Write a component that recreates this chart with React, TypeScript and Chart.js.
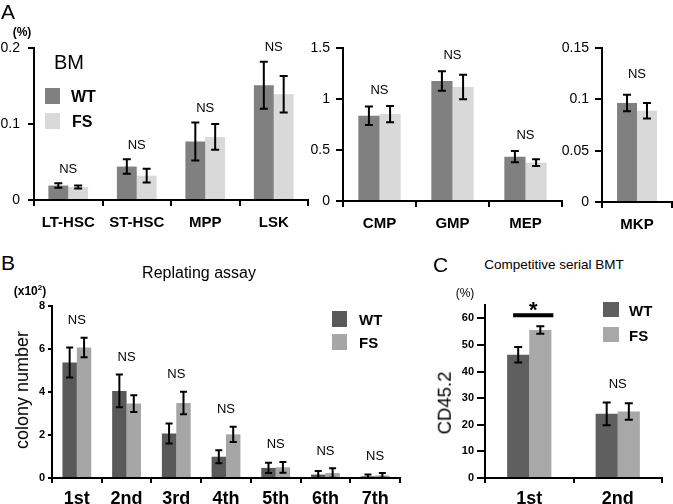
import React, { useEffect, useRef } from 'react';
import { Chart, registerables } from 'chart.js';

Chart.register(...registerables);

const FONT = '"Liberation Sans", Arial, Helvetica, sans-serif';

// ---------- Panel A (BM) ----------
const aCats1 = ['LT-HSC', 'ST-HSC', 'MPP', 'LSK'];
const aWT1 = [0.019, 0.044, 0.077, 0.151];
const aWTErr1 = [0.003, 0.0095, 0.025, 0.031];
const aFS1 = [0.017, 0.032, 0.083, 0.139];
const aFSErr1 = [0.002, 0.009, 0.017, 0.024];
const aSig1 = ['NS', 'NS', 'NS', 'NS'];

const aCats2 = ['CMP', 'GMP', 'MEP'];
const aWT2 = [0.836, 1.176, 0.435];
const aWTErr2 = [0.09, 0.095, 0.054];
const aFS2 = [0.852, 1.117, 0.377];
const aFSErr2 = [0.08, 0.12, 0.033];
const aSig2 = ['NS', 'NS', 'NS'];

const aCats3 = ['MKP'];
const aWT3 = [0.0964];
const aWTErr3 = [0.008];
const aFS3 = [0.0889];
const aFSErr3 = [0.0076];
const aSig3 = ['NS'];

// ---------- Panel B (Replating assay, x10^2 colonies) ----------
const bCats = ['1st', '2nd', '3rd', '4th', '5th', '6th', '7th'];
const bWT = [5.37, 4.05, 2.07, 0.99, 0.47, 0.16, 0.08];
const bWTErr = [0.7, 0.76, 0.46, 0.3, 0.24, 0.17, 0.08];
const bFS = [6.07, 3.46, 3.49, 2.03, 0.5, 0.23, 0.12];
const bFSErr = [0.45, 0.39, 0.52, 0.35, 0.25, 0.22, 0.11];
const bSig = ['NS', 'NS', 'NS', 'NS', 'NS', 'NS', 'NS'];

// ---------- Panel C (Competitive serial BMT, CD45.2 %) ----------
const cCats = ['1st', '2nd'];
const cWT = [46.3, 24.1];
const cWTErr = [2.9, 4.3];
const cFS = [55.6, 25.0];
const cFSErr = [1.4, 3.1];
const cSig = ['*', 'NS'];

const seriesNames = ['WT', 'FS'];
const aColors = ['#808080', '#d9d9d9'];
const bColors = ['#595959', '#a6a6a6'];
const cColors = ['#5f5f5f', '#a8a8a8'];

type Spec = {
  labels: string[];
  wt: number[];
  wtErr: number[];
  fs: number[];
  fsErr: number[];
  sig: string[];
  colors: string[];
  yMax: number;
  yStep: number;
  yTickMax?: number;
  box: { left: number; top: number; width: number; height: number };
  yW: number;
  xH: number;
  padTop: number;
  padRight: number;
  catPct: number;
  yFontSize: number;
  yFontBold: boolean;
  yTickLen: number;
  yTickPad: number;
  xFontSize: number;
  xTickLen: number;
  xTickPad: number;
  nsGap: number;
  nsSize: number;
  cap: number;
};

function fmt(v: number) {
  return String(parseFloat(Number(v).toFixed(3)));
}

function BarPanel({ spec }: { spec: Spec }) {
  const ref = useRef<HTMLCanvasElement | null>(null);
  useEffect(() => {
    if (!ref.current) return;
    const s = spec;
    const overlay = {
      id: 'overlay',
      afterDatasetsDraw(chart: any) {
        const ctx = chart.ctx as CanvasRenderingContext2D;
        const y = chart.scales.y;
        ctx.save();
        ctx.strokeStyle = '#000';
        ctx.lineWidth = 2;
        const groups: [number[], number[]][] = [
          [s.wt, s.wtErr],
          [s.fs, s.fsErr],
        ];
        groups.forEach(([vals, errs], d) => {
          const meta = chart.getDatasetMeta(d);
          meta.data.forEach((bar: any, i: number) => {
            const x = bar.x;
            const yT = y.getPixelForValue(vals[i] + errs[i]);
            const yB = y.getPixelForValue(Math.max(vals[i] - errs[i], 0));
            ctx.beginPath();
            ctx.moveTo(x, yT);
            ctx.lineTo(x, yB);
            ctx.moveTo(x - s.cap / 2, yT);
            ctx.lineTo(x + s.cap / 2, yT);
            ctx.moveTo(x - s.cap / 2, yB);
            ctx.lineTo(x + s.cap / 2, yB);
            ctx.stroke();
          });
        });
        ctx.fillStyle = '#000';
        ctx.textAlign = 'center';
        s.sig.forEach((mark, i) => {
          const top = Math.max(s.wt[i] + s.wtErr[i], s.fs[i] + s.fsErr[i]);
          const py = y.getPixelForValue(top);
          const b0 = chart.getDatasetMeta(0).data[i];
          const b1 = chart.getDatasetMeta(1).data[i];
          const cx = (b0.x + b1.x) / 2;
          if (mark === '*') {
            const ly = py - 11;
            ctx.lineWidth = 4;
            ctx.beginPath();
            ctx.moveTo(b0.x - b0.width / 2 + 6, ly);
            ctx.lineTo(b1.x + b1.width / 2 + 2, ly);
            ctx.stroke();
            ctx.font = `bold 22px ${FONT}`;
            ctx.textBaseline = 'alphabetic';
            ctx.fillText('*', cx + 4, ly + 2);
          } else {
            ctx.font = `${s.nsSize}px ${FONT}`;
            ctx.textBaseline = 'middle';
            ctx.fillText(mark, cx, py - s.nsGap);
          }
        });
        ctx.restore();
      },
    };
    const chart = new Chart(ref.current, {
      type: 'bar',
      data: {
        labels: s.labels,
        datasets: [
          {
            label: seriesNames[0],
            data: s.wt,
            backgroundColor: s.colors[0],
            borderWidth: 0,
            barPercentage: 1,
            categoryPercentage: s.catPct,
          },
          {
            label: seriesNames[1],
            data: s.fs,
            backgroundColor: s.colors[1],
            borderWidth: 0,
            barPercentage: 1,
            categoryPercentage: s.catPct,
          },
        ],
      },
      options: {
        responsive: false,
        animation: false,
        devicePixelRatio: 1,
        events: [],
        layout: { padding: { top: s.padTop, right: s.padRight, left: 0, bottom: 0 } },
        plugins: { legend: { display: false }, tooltip: { enabled: false } },
        scales: {
          x: {
            grid: {
              display: true,
              drawOnChartArea: false,
              drawTicks: true,
              tickLength: s.xTickLen,
              color: '#000',
              lineWidth: 2,
              offset: true,
            },
            border: { display: true, color: '#000', width: 2 },
            ticks: {
              color: '#000',
              font: { family: FONT, size: s.xFontSize, weight: 'bold' },
              padding: s.xTickPad,
              maxRotation: 0,
              autoSkip: false,
            },
            afterFit: (sc: any) => {
              sc.height = s.xH;
            },
          },
          y: {
            min: 0,
            max: s.yMax,
            grid: {
              display: true,
              drawOnChartArea: false,
              drawTicks: true,
              tickLength: s.yTickLen,
              color: '#000',
              lineWidth: 2,
            },
            border: { display: true, color: '#000', width: 2 },
            ticks: {
              stepSize: s.yStep,
              color: '#000',
              font: { family: FONT, size: s.yFontSize, weight: s.yFontBold ? 'bold' : 'normal' },
              padding: s.yTickPad,
              callback: (v: any) => fmt(v),
            },
            afterBuildTicks: (sc: any) => {
              if (s.yTickMax !== undefined) {
                sc.ticks = sc.ticks.filter((t: any) => t.value <= (s.yTickMax as number) + 1e-9);
              }
            },
            afterFit: (sc: any) => {
              sc.width = s.yW;
            },
          },
        },
      } as any,
      plugins: [overlay],
    });
    return () => chart.destroy();
  }, [spec]);
  const b = spec.box;
  return (
    <div style={{ position: 'absolute', left: b.left, top: b.top, width: b.width, height: b.height }}>
      <canvas ref={ref} width={b.width} height={b.height} style={{ display: 'block', width: b.width, height: b.height }} />
    </div>
  );
}

type TProps = {
  x: number;
  y: number;
  size: number;
  bold?: boolean;
  center?: boolean;
  rotate?: boolean;
  children: React.ReactNode;
};

function T({ x, y, size, bold, center, rotate, children }: TProps) {
  let transform = 'translate(0,-50%)';
  if (center) transform = 'translate(-50%,-50%)';
  if (rotate) transform = 'translate(-50%,-50%) rotate(-90deg)';
  return (
    <div
      style={{
        position: 'absolute',
        left: x,
        top: y,
        fontSize: size,
        fontWeight: bold ? 'bold' : 'normal',
        fontFamily: FONT,
        lineHeight: 1,
        whiteSpace: 'nowrap',
        color: '#000',
        transform,
      }}
    >
      {children}
    </div>
  );
}

function Swatch({ x, y, w, h, color }: { x: number; y: number; w: number; h: number; color: string }) {
  return <div style={{ position: 'absolute', left: x, top: y, width: w, height: h, background: color }} />;
}

const specA1: Spec = {
  labels: aCats1, wt: aWT1, wtErr: aWTErr1, fs: aFS1, fsErr: aFSErr1, sig: aSig1, colors: aColors,
  yMax: 0.2, yStep: 0.1,
  box: { left: 0, top: 0, width: 310, height: 235 },
  yW: 34, xH: 35, padTop: 48, padRight: 2, catPct: 0.58,
  yFontSize: 14, yFontBold: false, yTickLen: 6, yTickPad: 8,
  xFontSize: 15, xTickLen: 6, xTickPad: 8,
  nsGap: 14, nsSize: 13, cap: 8,
};

const specA2: Spec = {
  labels: aCats2, wt: aWT2, wtErr: aWTErr2, fs: aFS2, fsErr: aFSErr2, sig: aSig2, colors: aColors,
  yMax: 1.5, yStep: 0.5,
  box: { left: 296, top: 0, width: 270, height: 235 },
  yW: 47, xH: 34, padTop: 48, padRight: 4, catPct: 0.58,
  yFontSize: 14, yFontBold: false, yTickLen: 7, yTickPad: 6,
  xFontSize: 15, xTickLen: 6, xTickPad: 8,
  nsGap: 16, nsSize: 13, cap: 8,
};

const specA3: Spec = {
  labels: aCats3, wt: aWT3, wtErr: aWTErr3, fs: aFS3, fsErr: aFSErr3, sig: aSig3, colors: aColors,
  yMax: 0.15, yStep: 0.05,
  box: { left: 560, top: 0, width: 113, height: 235 },
  yW: 42, xH: 33, padTop: 48, padRight: 1, catPct: 0.57,
  yFontSize: 14, yFontBold: false, yTickLen: 7, yTickPad: 6,
  xFontSize: 15, xTickLen: 6, xTickPad: 8,
  nsGap: 20, nsSize: 13, cap: 8,
};

const specB: Spec = {
  labels: bCats, wt: bWT, wtErr: bWTErr, fs: bFS, fsErr: bFSErr, sig: bSig, colors: bColors,
  yMax: 8, yStep: 2,
  box: { left: 0, top: 280, width: 410, height: 224 },
  yW: 52, xH: 26, padTop: 26, padRight: 10, catPct: 0.58,
  yFontSize: 11, yFontBold: true, yTickLen: 4, yTickPad: 3,
  xFontSize: 18, xTickLen: 5, xTickPad: 5,
  nsGap: 17, nsSize: 13, cap: 7,
};

const specC: Spec = {
  labels: cCats, wt: cWT, wtErr: cWTErr, fs: cFS, fsErr: cFSErr, sig: cSig, colors: cColors,
  yMax: 65, yStep: 10, yTickMax: 60,
  box: { left: 420, top: 280, width: 253, height: 224 },
  yW: 65, xH: 26, padTop: 25, padRight: 11, catPct: 0.5,
  yFontSize: 11, yFontBold: true, yTickLen: 8, yTickPad: 3,
  xFontSize: 18, xTickLen: 5, xTickPad: 5,
  nsGap: 18, nsSize: 13, cap: 8,
};

export default function App() {
  useEffect(() => {
    document.body.style.margin = '0';
  }, []);
  return (
    <div style={{ position: 'absolute', left: 0, top: 0, width: 673, height: 504, background: '#fff', overflow: 'hidden' }}>
      <BarPanel spec={specA1} />
      <BarPanel spec={specA2} />
      <BarPanel spec={specA3} />
      <BarPanel spec={specB} />
      <BarPanel spec={specC} />

      {/* Panel A annotations */}
      <T x={1} y={11} size={21}>A</T>
      <T x={22} y={32} size={12} bold center>(%)</T>
      <T x={54} y={62} size={20}>BM</T>
      <Swatch x={45} y={88} w={15} h={16} color={aColors[0]} />
      <Swatch x={45} y={113} w={15} h={16} color={aColors[1]} />
      <T x={71} y={97} size={16} bold>{seriesNames[0]}</T>
      <T x={72} y={122} size={16} bold>{seriesNames[1]}</T>

      {/* Panel B annotations */}
      <T x={1} y={262} size={21}>B</T>
      <T x={199} y={273} size={16} center>Replating assay</T>
      <T x={30} y={291} size={12} bold center>
        (x10<sup style={{ fontSize: 8, verticalAlign: 'super', lineHeight: 0 }}>2</sup>)
      </T>
      <T x={22} y={390} size={18} rotate>colony number</T>
      <Swatch x={332} y={311} w={15} h={16} color={bColors[0]} />
      <Swatch x={332} y={334} w={15} h={16} color={bColors[1]} />
      <T x={359} y={319} size={15} bold>{seriesNames[0]}</T>
      <T x={359} y={342} size={15} bold>{seriesNames[1]}</T>

      {/* Panel C annotations */}
      <T x={433} y={264} size={21}>C</T>
      <T x={554} y={265} size={13.5} center>Competitive serial BMT</T>
      <T x={465} y={293} size={12} center>(%)</T>
      <T x={445} y={403} size={18.5} rotate>CD45.2</T>
      <Swatch x={603} y={302} w={16} h={15} color={cColors[0]} />
      <Swatch x={603} y={327} w={16} h={15} color={cColors[1]} />
      <T x={629} y={310} size={15} bold>{seriesNames[0]}</T>
      <T x={629} y={335} size={15} bold>{seriesNames[1]}</T>
    </div>
  );
}
